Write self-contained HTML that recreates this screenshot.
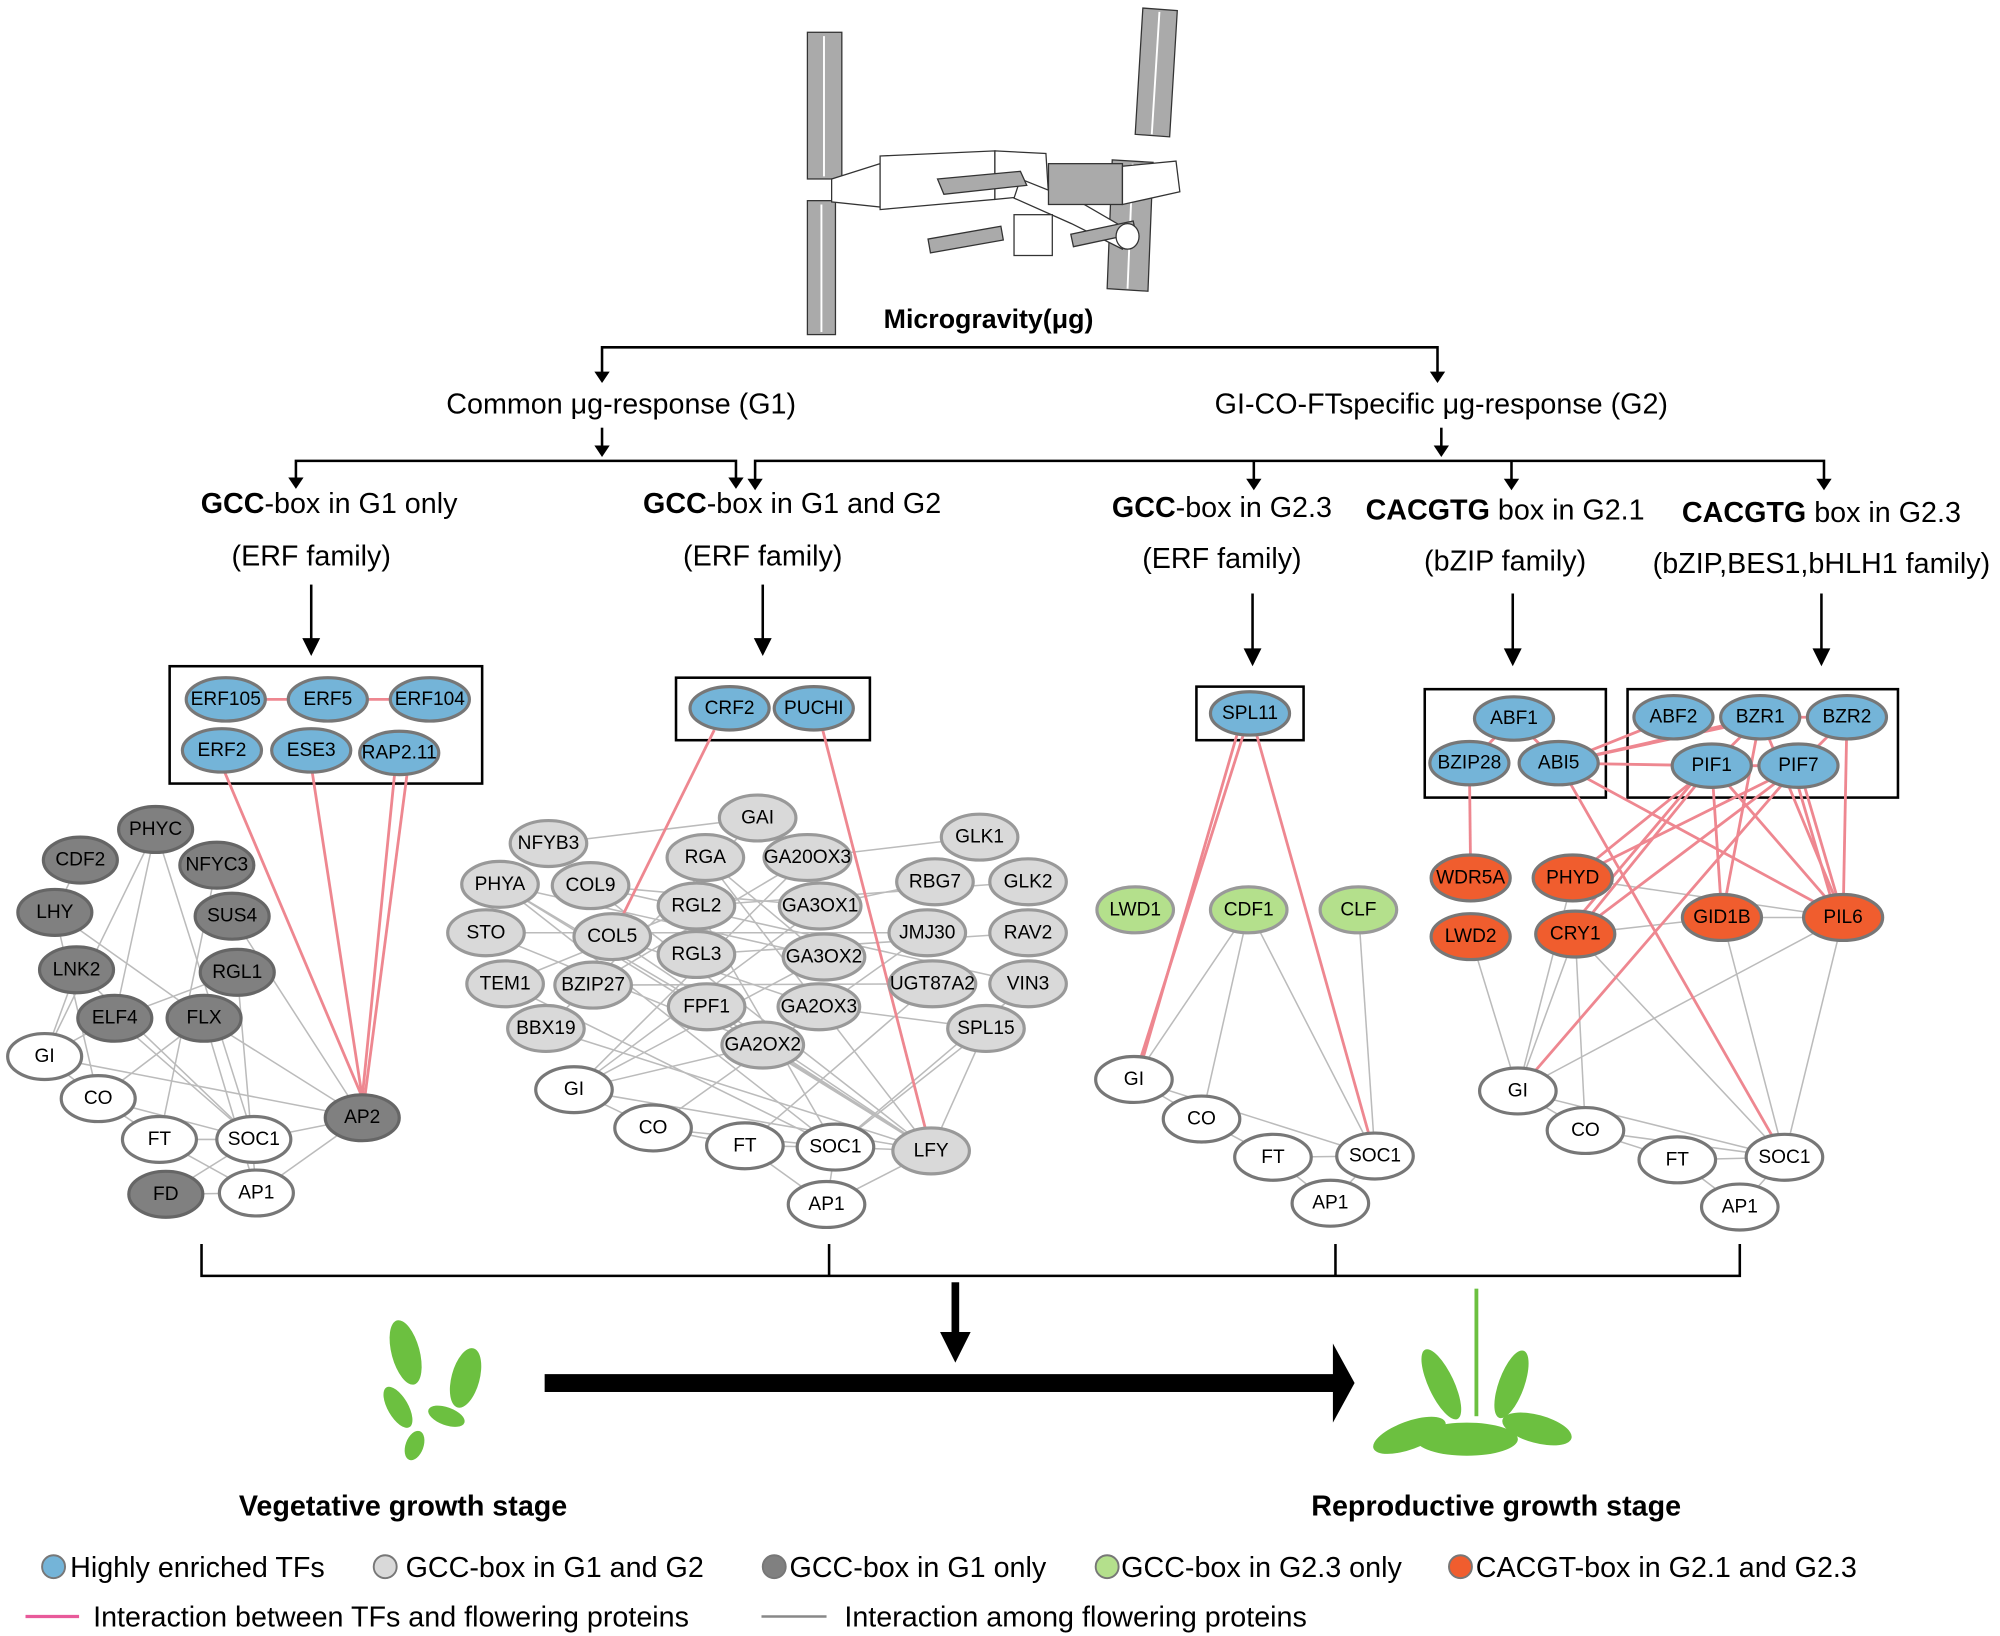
<!DOCTYPE html>
<html><head><meta charset="utf-8"><style>
html,body{margin:0;padding:0;background:#fff}
svg{display:block}
text{font-family:"Liberation Sans",sans-serif}
.n{font-size:15px;text-anchor:middle;dominant-baseline:central}
.g line{stroke:#bbb;stroke-width:1.2}
.p line{stroke:#ee8790;stroke-width:2.2}
.h{font-size:22.5px;text-anchor:middle}
</style></head><body>
<svg width="2000" height="1636" viewBox="0 0 1568 1282" xmlns="http://www.w3.org/2000/svg">
<!-- space station -->
<g stroke="#333" stroke-width="1">
<rect x="633" y="25" width="27" height="115" fill="#aaa"/>
<rect x="633" y="157" width="22" height="105" fill="#aaa"/>
<polygon points="896,6 923,8 917,107 890,105" fill="#aaa"/>
<polygon points="872,125 904,127 900,228 868,226" fill="#aaa"/>
<g stroke="#fff" stroke-width="1.5"><line x1="646" y1="28" x2="646" y2="138"/><line x1="644" y1="160" x2="644" y2="260"/><line x1="909" y1="9" x2="903" y2="105"/><line x1="888" y1="128" x2="884" y2="226"/></g>
<polygon points="652,140 690,128 690,162 652,158" fill="#fff"/>
<polygon points="690,122 780,118 780,156 690,164" fill="#fff"/>
<polygon points="780,118 820,120 822,152 780,156" fill="#fff"/>
<polygon points="800,140 850,160 888,182 880,195 840,175 795,155" fill="#fff"/>
<rect x="822" y="128" width="58" height="32" fill="#aaa"/>
<polygon points="880,130 922,126 925,150 880,160" fill="#fff"/>
<rect x="795" y="168" width="30" height="32" fill="#fff"/>
<rect x="728" y="182" width="58" height="11" fill="#aaa" transform="rotate(-10 757 187)"/>
<rect x="840" y="178" width="50" height="10" fill="#aaa" transform="rotate(-12 865 183)"/>
<ellipse cx="884" cy="185" rx="9" ry="10" fill="#fff"/>
<polygon points="735,140 800,134 805,145 740,152" fill="#aaa"/>
</g>
<text x="775" y="257" font-size="21" font-weight="bold" text-anchor="middle">Microgravity(μg)</text>
<!-- tree -->
<g stroke="#000" stroke-width="2" fill="none">
<polyline points="472,295 472,272 1127,272 1127,295"/>
<line x1="472" y1="335" x2="472" y2="355"/>
<line x1="1130" y1="335" x2="1130" y2="355"/>
<polyline points="232,378 232,361 577,361 577,378"/>
<polyline points="592,380 592,361 1430,361 1430,380"/>
<line x1="983" y1="361" x2="983" y2="380"/><line x1="1185" y1="361" x2="1185" y2="380"/>
<line x1="244" y1="458" x2="244" y2="508"/><line x1="598" y1="458" x2="598" y2="508"/>
<line x1="982" y1="465" x2="982" y2="518"/><line x1="1186" y1="465" x2="1186" y2="518"/><line x1="1428" y1="465" x2="1428" y2="518"/>
</g>
<g fill="#000">
<path d="M466,291 L478,291 L472,300Z"/><path d="M1121,291 L1133,291 L1127,300Z"/>
<path d="M466,349 L478,349 L472,358Z"/><path d="M1124,349 L1136,349 L1130,358Z"/>
<path d="M226,374 L238,374 L232,383Z"/><path d="M571,374 L583,374 L577,383Z"/>
<path d="M586,375 L598,375 L592,384Z"/><path d="M977,375 L989,375 L983,384Z"/><path d="M1179,375 L1191,375 L1185,384Z"/><path d="M1424,375 L1436,375 L1430,384Z"/>
<path d="M237,500 L251,500 L244,514Z"/><path d="M591,500 L605,500 L598,514Z"/><path d="M975,508 L989,508 L982,522Z"/><path d="M1179,508 L1193,508 L1186,522Z"/><path d="M1421,508 L1435,508 L1428,522Z"/>
</g>
<text x="487" y="324" class="h">Common μg-response (G1)</text>
<text x="1130" y="324" class="h">GI-CO-FTspecific μg-response (G2)</text>
<text x="258" y="402" class="h"><tspan font-weight="bold">GCC</tspan>-box in G1 only</text>
<text x="621" y="402" class="h"><tspan font-weight="bold">GCC</tspan>-box in G1 and G2</text>
<text x="958" y="405" class="h"><tspan font-weight="bold">GCC</tspan>-box in G2.3</text>
<text x="1180" y="407" class="h"><tspan font-weight="bold">CACGTG</tspan> box in G2.1</text>
<text x="1428" y="409" class="h"><tspan font-weight="bold">CACGTG</tspan> box in G2.3</text>
<text x="244" y="443" class="h">(ERF family)</text>
<text x="598" y="443" class="h">(ERF family)</text>
<text x="958" y="445" class="h">(ERF family)</text>
<text x="1180" y="447" class="h">(bZIP family)</text>
<text x="1428" y="449" class="h">(bZIP,BES1,bHLH1 family)</text>
<!-- boxes -->
<g fill="none" stroke="#000" stroke-width="2">
<rect x="133" y="522" width="245" height="92"/>
<rect x="530" y="531" width="152" height="49"/>
<rect x="938" y="538" width="84" height="42"/>
<rect x="1117" y="540" width="142" height="85"/>
<rect x="1276" y="540" width="212" height="85"/>
</g>
<!-- gray edges -->
<g class="g">
<line x1="122" y1="650" x2="35" y2="828"/><line x1="122" y1="650" x2="199" y2="893"/><line x1="122" y1="650" x2="90" y2="798"/><line x1="63" y1="674" x2="43" y2="715"/><line x1="170" y1="678" x2="125" y2="893"/><line x1="43" y1="715" x2="160" y2="798"/><line x1="43" y1="715" x2="77" y2="861"/><line x1="182" y1="718" x2="284" y2="876"/><line x1="60" y1="760" x2="199" y2="893"/><line x1="60" y1="760" x2="35" y2="828"/><line x1="186" y1="762" x2="201" y2="935"/><line x1="186" y1="762" x2="90" y2="798"/><line x1="90" y1="798" x2="199" y2="893"/><line x1="160" y1="798" x2="77" y2="861"/><line x1="160" y1="798" x2="284" y2="876"/><line x1="35" y1="828" x2="284" y2="876"/><line x1="35" y1="828" x2="77" y2="861"/><line x1="77" y1="861" x2="125" y2="893"/><line x1="77" y1="861" x2="199" y2="893"/><line x1="125" y1="893" x2="199" y2="893"/><line x1="125" y1="893" x2="201" y2="935"/><line x1="130" y1="936" x2="201" y2="935"/><line x1="130" y1="936" x2="199" y2="893"/><line x1="199" y1="893" x2="284" y2="876"/><line x1="201" y1="935" x2="284" y2="876"/><line x1="160" y1="798" x2="201" y2="935"/><line x1="90" y1="798" x2="35" y2="828"/>
<line x1="392" y1="693" x2="655" y2="899"/><line x1="392" y1="693" x2="730" y2="902"/><line x1="392" y1="693" x2="646" y2="750"/><line x1="463" y1="694" x2="730" y2="902"/><line x1="463" y1="694" x2="806" y2="771"/><line x1="430" y1="661" x2="594" y2="641"/><line x1="553" y1="672" x2="730" y2="902"/><line x1="633" y1="672" x2="768" y2="656"/><line x1="546" y1="710" x2="655" y2="899"/><line x1="643" y1="710" x2="733" y2="691"/><line x1="643" y1="710" x2="450" y2="854"/><line x1="381" y1="731" x2="727" y2="731"/><line x1="480" y1="734" x2="730" y2="902"/><line x1="546" y1="748" x2="806" y2="731"/><line x1="646" y1="750" x2="450" y2="854"/><line x1="396" y1="771" x2="655" y2="899"/><line x1="465" y1="772" x2="731" y2="771"/><line x1="554" y1="789" x2="730" y2="902"/><line x1="642" y1="789" x2="773" y2="806"/><line x1="428" y1="806" x2="594" y2="641"/><line x1="598" y1="819" x2="730" y2="902"/><line x1="773" y1="806" x2="655" y2="899"/><line x1="773" y1="806" x2="730" y2="902"/><line x1="806" y1="771" x2="655" y2="899"/><line x1="450" y1="854" x2="633" y2="672"/><line x1="450" y1="854" x2="730" y2="902"/><line x1="450" y1="854" x2="512" y2="884"/><line x1="512" y1="884" x2="584" y2="898"/><line x1="584" y1="898" x2="655" y2="899"/><line x1="655" y1="899" x2="730" y2="902"/><line x1="584" y1="898" x2="648" y2="944"/><line x1="730" y1="902" x2="648" y2="944"/><line x1="655" y1="899" x2="648" y2="944"/><line x1="512" y1="884" x2="655" y2="899"/><line x1="392" y1="693" x2="554" y2="789"/><line x1="463" y1="694" x2="643" y2="710"/><line x1="381" y1="731" x2="598" y2="819"/><line x1="480" y1="734" x2="642" y2="789"/><line x1="546" y1="710" x2="806" y2="691"/><line x1="553" y1="672" x2="646" y2="750"/><line x1="396" y1="771" x2="546" y2="710"/><line x1="465" y1="772" x2="633" y2="672"/><line x1="428" y1="806" x2="730" y2="902"/><line x1="598" y1="819" x2="450" y2="854"/><line x1="731" y1="771" x2="584" y2="898"/><line x1="727" y1="731" x2="512" y2="884"/>
<line x1="979" y1="713" x2="889" y2="846"/><line x1="979" y1="713" x2="1078" y2="906"/><line x1="979" y1="713" x2="942" y2="877"/><line x1="1065" y1="713" x2="1078" y2="906"/><line x1="889" y1="846" x2="942" y2="877"/><line x1="889" y1="846" x2="1078" y2="906"/><line x1="942" y1="877" x2="998" y2="907"/><line x1="998" y1="907" x2="1078" y2="906"/><line x1="998" y1="907" x2="1043" y2="943"/><line x1="1078" y1="906" x2="1043" y2="943"/>
<line x1="1153" y1="734" x2="1190" y2="855"/><line x1="1235" y1="732" x2="1190" y2="855"/><line x1="1233" y1="688" x2="1190" y2="855"/><line x1="1235" y1="732" x2="1243" y2="886"/><line x1="1235" y1="732" x2="1399" y2="907"/><line x1="1235" y1="732" x2="1350" y2="719"/><line x1="1233" y1="688" x2="1445" y2="719"/><line x1="1350" y1="719" x2="1445" y2="719"/><line x1="1350" y1="719" x2="1399" y2="907"/><line x1="1445" y1="719" x2="1399" y2="907"/><line x1="1445" y1="719" x2="1190" y2="855"/><line x1="1190" y1="855" x2="1243" y2="886"/><line x1="1190" y1="855" x2="1399" y2="907"/><line x1="1243" y1="886" x2="1315" y2="909"/><line x1="1243" y1="886" x2="1399" y2="907"/><line x1="1315" y1="909" x2="1399" y2="907"/><line x1="1315" y1="909" x2="1364" y2="946"/><line x1="1399" y1="907" x2="1364" y2="946"/>
</g>
<!-- pink edges -->
<g class="p">
<line x1="177" y1="548" x2="337" y2="548"/>
<line x1="174" y1="600" x2="284" y2="860"/><line x1="244" y1="600" x2="284" y2="860"/><line x1="310" y1="600" x2="284" y2="860"/><line x1="320" y1="600" x2="286" y2="860"/>
<line x1="560" y1="572" x2="480" y2="734"/><line x1="645" y1="572" x2="730" y2="902"/>
<line x1="975" y1="575" x2="889" y2="846"/><line x1="970" y1="575" x2="893" y2="840"/><line x1="985" y1="575" x2="1078" y2="906"/>
<line x1="1187" y1="563" x2="1152" y2="598"/><line x1="1187" y1="563" x2="1222" y2="598"/>
<line x1="1152" y1="598" x2="1153" y2="688"/><line x1="1222" y1="598" x2="1399" y2="907"/><line x1="1222" y1="598" x2="1445" y2="719"/>
<line x1="1222" y1="598" x2="1342" y2="600"/><line x1="1222" y1="598" x2="1312" y2="562"/><line x1="1222" y1="598" x2="1380" y2="562"/><line x1="1222" y1="598" x2="1375" y2="565"/>
<line x1="1342" y1="600" x2="1410" y2="600"/><line x1="1380" y1="562" x2="1448" y2="562"/><line x1="1448" y1="562" x2="1410" y2="600"/><line x1="1380" y1="562" x2="1342" y2="600"/>
<line x1="1342" y1="600" x2="1233" y2="688"/><line x1="1342" y1="600" x2="1235" y2="732"/><line x1="1338" y1="600" x2="1230" y2="728"/><line x1="1342" y1="600" x2="1350" y2="719"/><line x1="1342" y1="600" x2="1445" y2="719"/>
<line x1="1410" y1="600" x2="1233" y2="688"/><line x1="1410" y1="600" x2="1235" y2="732"/><line x1="1410" y1="600" x2="1190" y2="855"/><line x1="1410" y1="600" x2="1445" y2="719"/><line x1="1405" y1="600" x2="1440" y2="719"/>
<line x1="1380" y1="562" x2="1350" y2="719"/><line x1="1380" y1="562" x2="1445" y2="719"/><line x1="1448" y1="562" x2="1445" y2="719"/>
</g>
<!-- nodes -->
<g stroke-width="2.5">
<g fill="#74b4d8" stroke="#777">
<ellipse cx="177" cy="548" rx="31" ry="17"/><ellipse cx="257" cy="548" rx="31" ry="17"/><ellipse cx="337" cy="548" rx="31" ry="17"/>
<ellipse cx="174" cy="588" rx="31" ry="17"/><ellipse cx="244" cy="588" rx="31" ry="17"/><ellipse cx="313" cy="590" rx="31" ry="17"/>
<ellipse cx="572" cy="555" rx="31" ry="17"/><ellipse cx="638" cy="555" rx="31" ry="17"/>
<ellipse cx="980" cy="559" rx="31" ry="17"/>
<ellipse cx="1187" cy="563" rx="31" ry="17"/><ellipse cx="1152" cy="598" rx="31" ry="17"/><ellipse cx="1222" cy="598" rx="31" ry="17"/>
<ellipse cx="1312" cy="562" rx="31" ry="17"/><ellipse cx="1380" cy="562" rx="31" ry="17"/><ellipse cx="1448" cy="562" rx="31" ry="17"/>
<ellipse cx="1342" cy="600" rx="31" ry="17"/><ellipse cx="1410" cy="600" rx="31" ry="17"/>
</g>
<g fill="#808080" stroke="#666">
<ellipse cx="122" cy="650" rx="29" ry="18"/><ellipse cx="63" cy="674" rx="29" ry="18"/><ellipse cx="170" cy="678" rx="29" ry="18"/><ellipse cx="43" cy="715" rx="29" ry="18"/><ellipse cx="182" cy="718" rx="29" ry="18"/><ellipse cx="60" cy="760" rx="29" ry="18"/><ellipse cx="186" cy="762" rx="29" ry="18"/><ellipse cx="90" cy="798" rx="29" ry="18"/><ellipse cx="160" cy="798" rx="29" ry="18"/><ellipse cx="284" cy="876" rx="29" ry="18"/><ellipse cx="130" cy="936" rx="29" ry="18"/>
</g>
<g fill="#d9d9d9" stroke="#999">
<ellipse cx="594" cy="641" rx="30" ry="18"/><ellipse cx="430" cy="661" rx="30" ry="18"/><ellipse cx="768" cy="656" rx="30" ry="18"/><ellipse cx="553" cy="672" rx="30" ry="18"/><ellipse cx="633" cy="672" rx="34" ry="18"/><ellipse cx="392" cy="693" rx="30" ry="18"/><ellipse cx="463" cy="694" rx="30" ry="18"/><ellipse cx="733" cy="691" rx="30" ry="18"/><ellipse cx="806" cy="691" rx="30" ry="18"/><ellipse cx="546" cy="710" rx="30" ry="18"/><ellipse cx="643" cy="710" rx="32" ry="18"/><ellipse cx="381" cy="731" rx="30" ry="18"/><ellipse cx="480" cy="734" rx="30" ry="18"/><ellipse cx="727" cy="731" rx="30" ry="18"/><ellipse cx="806" cy="731" rx="30" ry="18"/><ellipse cx="546" cy="748" rx="30" ry="18"/><ellipse cx="646" cy="750" rx="32" ry="18"/><ellipse cx="396" cy="771" rx="30" ry="18"/><ellipse cx="465" cy="772" rx="30" ry="18"/><ellipse cx="731" cy="771" rx="34" ry="18"/><ellipse cx="806" cy="771" rx="30" ry="18"/><ellipse cx="554" cy="789" rx="30" ry="18"/><ellipse cx="642" cy="789" rx="32" ry="18"/><ellipse cx="428" cy="806" rx="30" ry="18"/><ellipse cx="773" cy="806" rx="30" ry="18"/><ellipse cx="598" cy="819" rx="32" ry="18"/><ellipse cx="730" cy="902" rx="30" ry="18"/>
</g>
<g fill="#b4e08c" stroke="#999">
<ellipse cx="890" cy="713" rx="30" ry="18"/><ellipse cx="979" cy="713" rx="30" ry="18"/><ellipse cx="1065" cy="713" rx="30" ry="18"/>
</g>
<g fill="#f05d2e" stroke="#777">
<ellipse cx="1153" cy="688" rx="31" ry="18"/><ellipse cx="1233" cy="688" rx="31" ry="18"/><ellipse cx="1153" cy="734" rx="31" ry="18"/><ellipse cx="1235" cy="732" rx="31" ry="18"/><ellipse cx="1350" cy="719" rx="31" ry="18"/><ellipse cx="1445" cy="719" rx="31" ry="18"/>
</g>
<g fill="#fff" stroke="#777">
<ellipse cx="35" cy="828" rx="29" ry="18"/><ellipse cx="77" cy="861" rx="29" ry="18"/><ellipse cx="125" cy="893" rx="29" ry="18"/><ellipse cx="199" cy="893" rx="29" ry="18"/><ellipse cx="201" cy="935" rx="29" ry="18"/>
<ellipse cx="450" cy="854" rx="30" ry="18"/><ellipse cx="512" cy="884" rx="30" ry="18"/><ellipse cx="584" cy="898" rx="30" ry="18"/><ellipse cx="655" cy="899" rx="30" ry="18"/><ellipse cx="648" cy="944" rx="30" ry="18"/>
<ellipse cx="889" cy="846" rx="30" ry="18"/><ellipse cx="942" cy="877" rx="30" ry="18"/><ellipse cx="998" cy="907" rx="30" ry="18"/><ellipse cx="1078" cy="906" rx="30" ry="18"/><ellipse cx="1043" cy="943" rx="30" ry="18"/>
<ellipse cx="1190" cy="855" rx="30" ry="18"/><ellipse cx="1243" cy="886" rx="30" ry="18"/><ellipse cx="1315" cy="909" rx="30" ry="18"/><ellipse cx="1399" cy="907" rx="30" ry="18"/><ellipse cx="1364" cy="946" rx="30" ry="18"/>
</g>
</g>
<g class="n">
<text x="177" y="548">ERF105</text><text x="257" y="548">ERF5</text><text x="337" y="548">ERF104</text><text x="174" y="588">ERF2</text><text x="244" y="588">ESE3</text><text x="313" y="590">RAP2.11</text>
<text x="572" y="555">CRF2</text><text x="638" y="555">PUCHI</text><text x="980" y="559">SPL11</text>
<text x="1187" y="563">ABF1</text><text x="1152" y="598">BZIP28</text><text x="1222" y="598">ABI5</text>
<text x="1312" y="562">ABF2</text><text x="1380" y="562">BZR1</text><text x="1448" y="562">BZR2</text><text x="1342" y="600">PIF1</text><text x="1410" y="600">PIF7</text>
<text x="122" y="650">PHYC</text><text x="63" y="674">CDF2</text><text x="170" y="678">NFYC3</text><text x="43" y="715">LHY</text><text x="182" y="718">SUS4</text><text x="60" y="760">LNK2</text><text x="186" y="762">RGL1</text><text x="90" y="798">ELF4</text><text x="160" y="798">FLX</text><text x="284" y="876">AP2</text><text x="130" y="936">FD</text>
<text x="35" y="828">GI</text><text x="77" y="861">CO</text><text x="125" y="893">FT</text><text x="199" y="893">SOC1</text><text x="201" y="935">AP1</text>
<text x="594" y="641">GAI</text><text x="430" y="661">NFYB3</text><text x="768" y="656">GLK1</text><text x="553" y="672">RGA</text><text x="633" y="672">GA20OX3</text><text x="392" y="693">PHYA</text><text x="463" y="694">COL9</text><text x="733" y="691">RBG7</text><text x="806" y="691">GLK2</text><text x="546" y="710">RGL2</text><text x="643" y="710">GA3OX1</text><text x="381" y="731">STO</text><text x="480" y="734">COL5</text><text x="727" y="731">JMJ30</text><text x="806" y="731">RAV2</text><text x="546" y="748">RGL3</text><text x="646" y="750">GA3OX2</text><text x="396" y="771">TEM1</text><text x="465" y="772">BZIP27</text><text x="731" y="771">UGT87A2</text><text x="806" y="771">VIN3</text><text x="554" y="789">FPF1</text><text x="642" y="789">GA2OX3</text><text x="428" y="806">BBX19</text><text x="773" y="806">SPL15</text><text x="598" y="819">GA2OX2</text><text x="730" y="902">LFY</text>
<text x="450" y="854">GI</text><text x="512" y="884">CO</text><text x="584" y="898">FT</text><text x="655" y="899">SOC1</text><text x="648" y="944">AP1</text>
<text x="890" y="713">LWD1</text><text x="979" y="713">CDF1</text><text x="1065" y="713">CLF</text>
<text x="889" y="846">GI</text><text x="942" y="877">CO</text><text x="998" y="907">FT</text><text x="1078" y="906">SOC1</text><text x="1043" y="943">AP1</text>
<text x="1153" y="688">WDR5A</text><text x="1233" y="688">PHYD</text><text x="1153" y="734">LWD2</text><text x="1235" y="732">CRY1</text><text x="1350" y="719">GID1B</text><text x="1445" y="719">PIL6</text>
<text x="1190" y="855">GI</text><text x="1243" y="886">CO</text><text x="1315" y="909">FT</text><text x="1399" y="907">SOC1</text><text x="1364" y="946">AP1</text>
</g>
<!-- bottom -->
<g stroke="#000" stroke-width="2" fill="none">
<polyline points="158,975 158,1000 1364,1000 1364,975"/>
<line x1="650" y1="975" x2="650" y2="1000"/><line x1="1047" y1="975" x2="1047" y2="1000"/>
</g>
<rect x="746" y="1005" width="6" height="40" fill="#000"/>
<path d="M737,1044 L761,1044 L749,1068Z" fill="#000"/>
<rect x="427" y="1077" width="620" height="14" fill="#000"/>
<path d="M1045,1053 L1062,1084 L1045,1115Z" fill="#000"/>
<!-- plants -->
<g fill="#6cc040">
<ellipse cx="318" cy="1060" rx="11" ry="26" transform="rotate(-15 318 1060)"/>
<ellipse cx="365" cy="1080" rx="11" ry="24" transform="rotate(15 365 1080)"/>
<ellipse cx="312" cy="1103" rx="8" ry="18" transform="rotate(-30 312 1103)"/>
<ellipse cx="350" cy="1110" rx="15" ry="7" transform="rotate(20 350 1110)"/>
<ellipse cx="325" cy="1133" rx="7" ry="12" transform="rotate(20 325 1133)"/>
<rect x="1156" y="1010" width="3" height="100"/>
<ellipse cx="1130" cy="1085" rx="10" ry="30" transform="rotate(-25 1130 1085)"/>
<ellipse cx="1185" cy="1085" rx="10" ry="28" transform="rotate(20 1185 1085)"/>
<ellipse cx="1105" cy="1125" rx="30" ry="11" transform="rotate(-20 1105 1125)"/>
<ellipse cx="1205" cy="1120" rx="28" ry="11" transform="rotate(15 1205 1120)"/>
<ellipse cx="1150" cy="1128" rx="40" ry="13"/>
</g>
<text x="316" y="1188" font-size="22.5" font-weight="bold" text-anchor="middle">Vegetative growth stage</text>
<text x="1173" y="1188" font-size="22.5" font-weight="bold" text-anchor="middle">Reproductive growth stage</text>
<!-- legend -->
<g stroke="#777" stroke-width="1.5">
<circle cx="42" cy="1228" r="9" fill="#74b4d8"/><circle cx="302" cy="1228" r="9" fill="#d9d9d9"/><circle cx="607" cy="1228" r="9" fill="#808080"/><circle cx="868" cy="1228" r="9" fill="#b4e08c"/><circle cx="1145" cy="1228" r="9" fill="#f05d2e"/>
</g>
<g font-size="22.5">
<text x="55" y="1236">Highly enriched TFs</text><text x="318" y="1236">GCC-box in G1 and G2</text><text x="619" y="1236">GCC-box in G1 only</text><text x="879" y="1236">GCC-box in G2.3 only</text><text x="1157" y="1236">CACGT-box in G2.1 and G2.3</text>
<text x="73" y="1275">Interaction between TFs and flowering proteins</text><text x="662" y="1275">Interaction among flowering proteins</text>
</g>
<line x1="20" y1="1267" x2="62" y2="1267" stroke="#e85a9a" stroke-width="2.5"/>
<line x1="597" y1="1267" x2="648" y2="1267" stroke="#888" stroke-width="2"/>
</svg>
</body></html>
